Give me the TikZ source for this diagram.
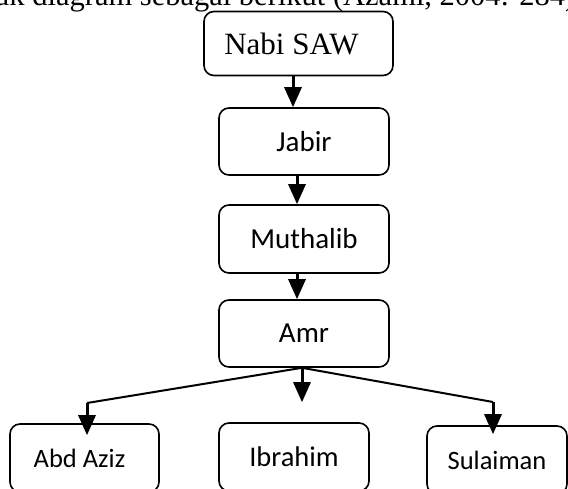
\documentclass[tikz,border=0pt]{standalone}
\usepackage{fontspec}
\setmainfont{Liberation Serif}
\newfontfamily\calibri{Carlito}
\usetikzlibrary{arrows.meta}

\begin{document}
\begin{tikzpicture}[x=1pt, y=-1pt,
  box/.style={draw, line width=1.6pt, rounded corners=10pt, inner sep=0pt,
    minimum height=67pt, font=\calibri\fontsize{29}{31}\selectfont},
  smallbox/.style={box, minimum height=68pt, font=\calibri\fontsize{26.5}{28}\selectfont},
  arr/.style={line width=3pt, -{Triangle[width=17pt,length=20pt]}},
  branch/.style={line width=2pt}
]
  \useasboundingbox (0,0) rectangle (568,488);
  \clip (0,0) rectangle (568,488);

  % === running text above the diagram (cut off) ===
  \node[anchor=base west, inner sep=0pt, font=\fontsize{30.5}{32}\selectfont] (intro) at (-6, 5)
    {uk diagram sebagai berikut (Azami, 2004: 284)};

  % === line of descent ===
  \node[box, minimum width=189pt, minimum height=64pt, font=\fontsize{31}{33}\selectfont] (nabi) at (298.5, 43.5) {Nabi SAW\hspace*{14pt}};
  \node[box, minimum width=170pt] (jabir) at (304, 141.5) {Jabir};
  \node[box, minimum width=170pt, minimum height=68pt] (muthalib) at (304, 239) {Muthalib};
  \node[box, minimum width=170pt] (amr) at (304, 333.5) {Amr};

  \draw[arr] ([xshift=-5.5pt]nabi.south) -- ([xshift=-5.5pt]nabi.south |- jabir.north);
  \draw[arr] ([xshift=-7pt]jabir.south) -- ([xshift=-7pt]jabir.south |- muthalib.north);
  \draw[arr] ([xshift=-7pt]muthalib.south) -- ([xshift=-7pt]muthalib.south |- amr.north);

  % === children of Amr ===
  \node[smallbox, minimum width=149pt] (aziz) at (84.5, 458) {Abd Aziz\hspace*{10pt}};
  \node[smallbox, minimum width=150pt, font=\calibri\fontsize{28.5}{30}\selectfont] (ibrahim) at (294, 457) {Ibrahim};
  \node[smallbox, minimum width=140pt] (sulaiman) at (497, 460) {Sulaiman};

  \coordinate (fork) at ([xshift=-2pt]amr.south);
  \coordinate (lbend) at (87, 403);
  \coordinate (rbend) at (493, 402);

  \draw[branch] (lbend) -- (fork) -- (rbend);
  \draw[arr, shorten >=-12pt] (lbend) -- (lbend |- aziz.north);
  \draw[arr, shorten >=20pt] (fork) -- (fork |- ibrahim.north);
  \draw[arr, shorten >=-9pt] (rbend) -- (rbend |- sulaiman.north);
\end{tikzpicture}
\end{document}
